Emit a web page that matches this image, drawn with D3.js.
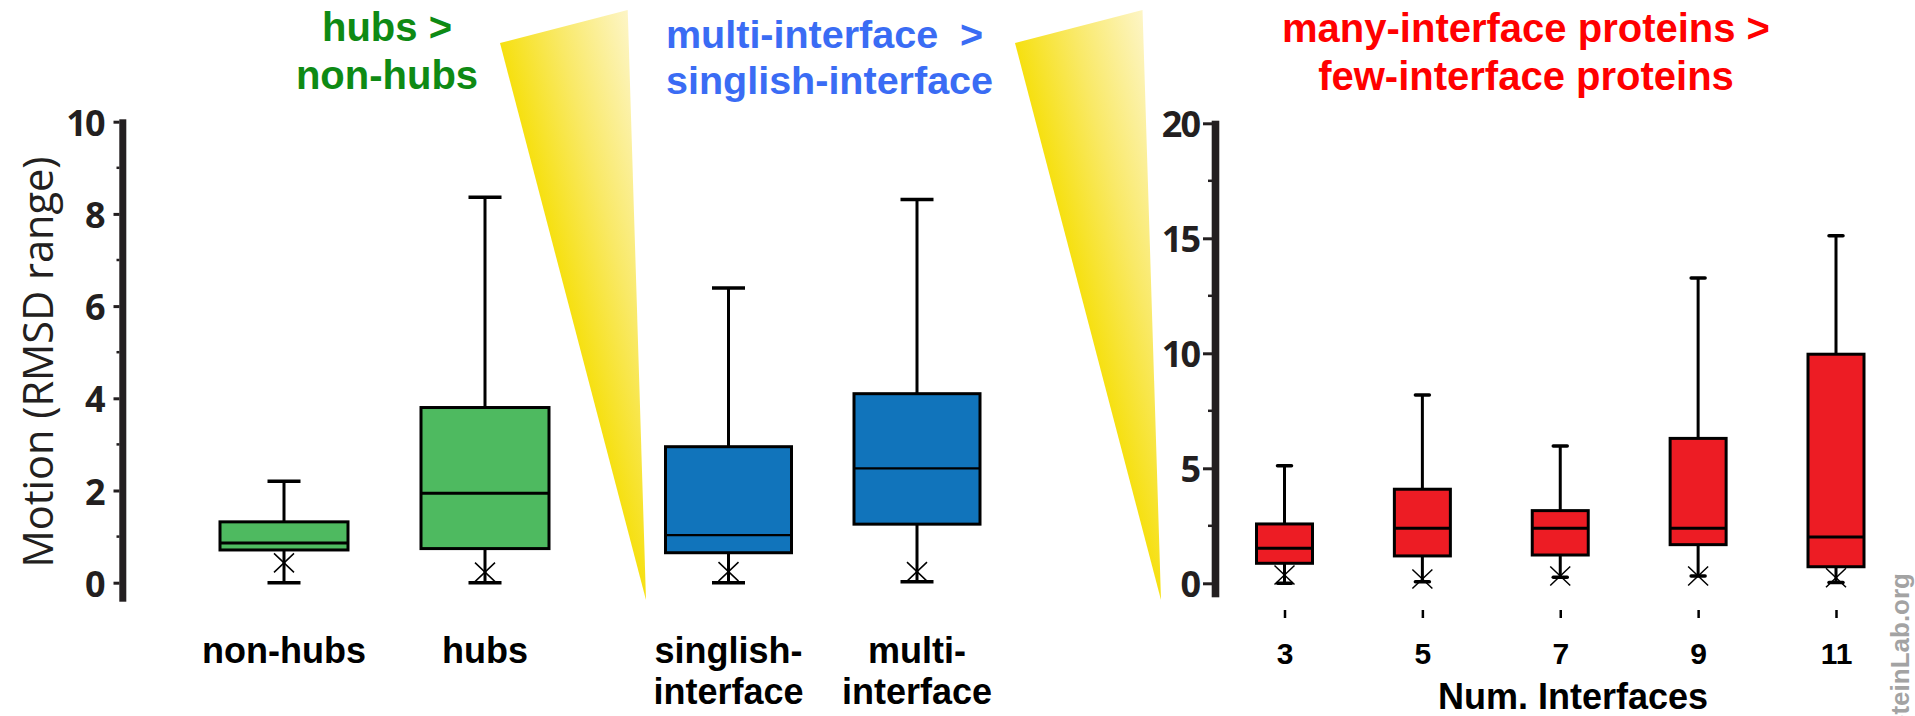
<!DOCTYPE html>
<html>
<head>
<meta charset="utf-8">
<script src="https://cdn.jsdelivr.net/npm/d3@7"></script>
<style>
	body { margin: 0; background: #fff; }
	svg { display: block; }
	.lbl { font-family: 'Liberation Sans', Arial, sans-serif; font-weight: bold; }
	.yax .tick text { font-family: 'Open Sans', sans-serif; font-weight: 700; font-size: 36px; fill: #231f20; letter-spacing: -2px; }
	.xax .tick text { font-family: 'Liberation Sans', Arial, sans-serif; font-weight: bold; font-size: 30px; fill: #000; }
</style>
</head>
<body>
<div id="chart"></div>
<script>
// hubs vs non-hubs
const hubCats = ['non-hubs', 'hubs'];
const hubMin = [0, 0];
const hubQ1 = [0.71, 0.74];
const hubMed = [0.86, 1.94];
const hubQ3 = [1.32, 3.80];
const hubMax = [2.20, 8.36];
const hubMean = [0.43, 0.23];

// singlish- vs multi-interface
const ifCats = ['singlish-interface', 'multi-interface'];
const ifMin = [0, 0.02];
const ifQ1 = [0.65, 1.27];
const ifMed = [1.03, 2.48];
const ifQ3 = [2.95, 4.10];
const ifMax = [6.39, 8.31];
const ifMean = [0.24, 0.24];

// by number of interfaces
const numCats = [3, 5, 7, 9, 11];
const numMin = [0, 0.07, 0.26, 0.32, 0.03];
const numQ1 = [0.87, 1.19, 1.23, 1.68, 0.72];
const numMed = [1.52, 2.39, 2.39, 2.39, 2.01];
const numQ3 = [2.58, 4.09, 3.16, 6.30, 9.96];
const numMax = [5.11, 8.19, 5.97, 13.27, 15.11];
const numMean = [0.36, 0.19, 0.32, 0.32, 0.24];

const leftTicks = [0, 2, 4, 6, 8, 10];
const leftMinor = [1, 3, 5, 7, 9];
const rightTicks = [0, 5, 10, 15, 20];
const rightMinor = [2.5, 7.5, 12.5, 17.5];

const W = 1915, H = 716;
const ink = '#231f20';

const rows = (cats, mn, q1, md, q3, mx, mean) =>
	cats.map((c, i) => ({ key: c, min: mn[i], q1: q1[i], med: md[i], q3: q3[i], max: mx[i], mean: mean[i] }));

const hubRows = rows(hubCats, hubMin, hubQ1, hubMed, hubQ3, hubMax, hubMean);
const ifRows = rows(ifCats, ifMin, ifQ1, ifMed, ifQ3, ifMax, ifMean);
const numRows = rows(numCats, numMin, numQ1, numMed, numQ3, numMax, numMean);

const svg = d3.select('#chart').append('svg')
	.attr('width', W)
	.attr('height', H)
	.attr('viewBox', `0 0 ${W} ${H}`);

svg.append('rect').attr('width', W).attr('height', H).attr('fill', '#fff');

// scales
const yL = d3.scaleLinear().domain([0, 10]).range([582.7, 121.7]);
const yR = d3.scaleLinear().domain([0, 20]).range([583.3, 123.3]);
const xHub = d3.scalePoint().domain(hubCats).range([284, 485]);
const xIf = d3.scalePoint().domain(ifCats).range([728.5, 917]);
const xNum = d3.scalePoint().domain(numCats).range([1284.5, 1836]);

// yellow wedges
const defs = svg.append('defs');
const wedges = [
	{ id: 'wedge1', pts: [[500, 43], [627.7, 10], [646, 600]] },
	{ id: 'wedge2', pts: [[1015, 43], [1142.5, 10], [1161, 600]] }
];
wedges.forEach(w => {
	const gr = defs.append('linearGradient')
		.attr('id', w.id)
		.attr('gradientUnits', 'userSpaceOnUse')
		.attr('x1', w.pts[0][0]).attr('y1', w.pts[0][1])
		.attr('x2', w.pts[1][0]).attr('y2', w.pts[1][1]);
	gr.append('stop').attr('offset', 0).attr('stop-color', '#f6e010');
	gr.append('stop').attr('offset', 0.45).attr('stop-color', '#f9e966');
	gr.append('stop').attr('offset', 1).attr('stop-color', '#fdf5c6');
	svg.append('path')
		.attr('d', d3.line()(w.pts) + 'Z')
		.attr('fill', `url(#${w.id})`);
});

// y axes
const drawYAxis = (y, x0, ticks, minor, size, pad, minorLen, top, bottom, lineX, lineW) => {
	const ax = d3.axisLeft(y).tickValues(ticks).tickSize(size).tickPadding(pad);
	const g = svg.append('g')
		.classed('yax', true)
		.attr('transform', `translate(${x0},0)`)
		.call(ax);
	g.select('.domain').remove();
	g.selectAll('.tick line').attr('stroke', ink).attr('stroke-width', 3);
	g.selectAll('.tick text').attr('dy', '0.38em');
	g.selectAll('.minor')
		.data(minor)
		.enter()
		.append('line')
		.attr('x1', -minorLen).attr('x2', 0)
		.attr('y1', d => y(d)).attr('y2', d => y(d))
		.attr('stroke', ink).attr('stroke-width', 2.5);
	svg.append('rect')
		.attr('x', lineX).attr('width', lineW)
		.attr('y', y(ticks[ticks.length - 1]) - top)
		.attr('height', y(0) + bottom - (y(ticks[ticks.length - 1]) - top))
		.attr('fill', ink);
};
drawYAxis(yL, 119.5, leftTicks, leftMinor, 6, 10, 3, 2.4, 19, 119.3, 7);
drawYAxis(yR, 1212, rightTicks, rightMinor, 9, 4, 4, 2.6, 14, 1211.7, 7.6);

// boxes
const drawBoxes = (data, x, y, o) => {
	const g = svg.append('g')
		.selectAll('g')
		.data(data)
		.enter()
		.append('g')
		.attr('transform', d => `translate(${x(d.key)},0)`);

	g.append('line')
		.attr('y1', d => y(d.min)).attr('y2', d => y(d.max))
		.attr('stroke', '#000').attr('stroke-width', 3);

	['min', 'max'].forEach(k => {
		g.append('line')
			.attr('x1', -o.capW / 2).attr('x2', o.capW / 2)
			.attr('y1', d => y(d[k])).attr('y2', d => y(d[k]))
			.attr('stroke', '#000').attr('stroke-width', 3.5)
			.attr('stroke-linecap', o.round ? 'round' : 'butt');
	});

	g.append('rect')
		.attr('x', -o.w / 2).attr('width', o.w)
		.attr('y', d => y(d.q3))
		.attr('height', d => y(d.q1) - y(d.q3))
		.attr('fill', o.fill)
		.attr('stroke', '#000').attr('stroke-width', 3);

	g.append('line')
		.attr('x1', -o.w / 2).attr('x2', o.w / 2)
		.attr('y1', d => y(d.med)).attr('y2', d => y(d.med))
		.attr('stroke', '#000').attr('stroke-width', o.medW);

	g.append('path')
		.attr('transform', d => `translate(0,${y(d.mean)})`)
		.attr('d', 'M-10,-9.5L10,9.5M-10,9.5L10,-9.5')
		.attr('stroke', '#000').attr('stroke-width', 1.5).attr('fill', 'none');
};
drawBoxes(hubRows, xHub, yL, { w: 128, capW: 33, fill: '#4eba60', medW: 3 });
drawBoxes(ifRows, xIf, yL, { w: 126, capW: 33, fill: '#1174bb', medW: 2.2 });
drawBoxes(numRows, xNum, yR, { w: 56, capW: 14, fill: '#ed1c24', medW: 3, round: true });

// x axis of the right panel
const axB = d3.axisBottom(xNum).tickSize(8).tickPadding(25);
const gB = svg.append('g')
	.classed('xax', true)
	.attr('transform', 'translate(0,610)')
	.call(axB);
gB.select('.domain').remove();
gB.selectAll('.tick line').attr('stroke', '#000').attr('stroke-width', 2.5);

svg.append('text')
	.classed('lbl', true)
	.attr('x', 1573).attr('y', 709)
	.attr('text-anchor', 'middle')
	.attr('font-size', 36)
	.text('Num. Interfaces');

// category labels under the left panels
const catLines = {
	'non-hubs': ['non-hubs'],
	'hubs': ['hubs'],
	'singlish-interface': ['singlish-', 'interface'],
	'multi-interface': ['multi-', 'interface']
};
const catLabel = (cats, x) => {
	cats.forEach(c => {
		svg.append('text')
			.classed('lbl', true)
			.attr('text-anchor', 'middle')
			.attr('font-size', 36)
			.selectAll('tspan')
			.data(catLines[c])
			.enter()
			.append('tspan')
			.attr('x', x(c))
			.attr('y', (d, i) => 663 + i * 41)
			.text(d => d);
	});
};
catLabel(hubCats, xHub);
catLabel(ifCats, xIf);

// y axis title
svg.append('text')
	.attr('transform', 'translate(53,362) rotate(-90)')
	.attr('text-anchor', 'middle')
	.attr('font-family', "'Open Sans', sans-serif")
	.attr('font-size', 41.5)
	.attr('fill', ink)
	.text('Motion (RMSD range)');

// titles
const title = (lines, x, y0, gap, color, anchor, size) => {
	svg.append('text')
		.classed('lbl', true)
		.attr('text-anchor', anchor)
		.attr('font-size', size)
		.attr('fill', color)
		.style('white-space', 'pre')
		.selectAll('tspan')
		.data(lines)
		.enter()
		.append('tspan')
		.attr('x', x)
		.attr('y', (d, i) => y0 + i * gap)
		.text(d => d);
};
title(['hubs >', 'non-hubs'], 387, 41, 47.5, '#0e8a14', 'middle', 40);
title(['multi-interface  >', 'singlish-interface'], 666, 48, 46, '#3a6cf4', 'start', 39.5);
title(['many-interface proteins >', 'few-interface proteins'], 1526, 42, 47.5, '#ff0000', 'middle', 40);

// watermark, cut by the right/bottom edge as in the original
svg.append('text')
	.classed('lbl', true)
	.attr('transform', 'translate(1909,573) rotate(-90)')
	.attr('text-anchor', 'end')
	.attr('font-size', 26)
	.attr('fill', '#a3a3a3')
	.text('ProteinLab.org');
</script>
</body>
</html>
